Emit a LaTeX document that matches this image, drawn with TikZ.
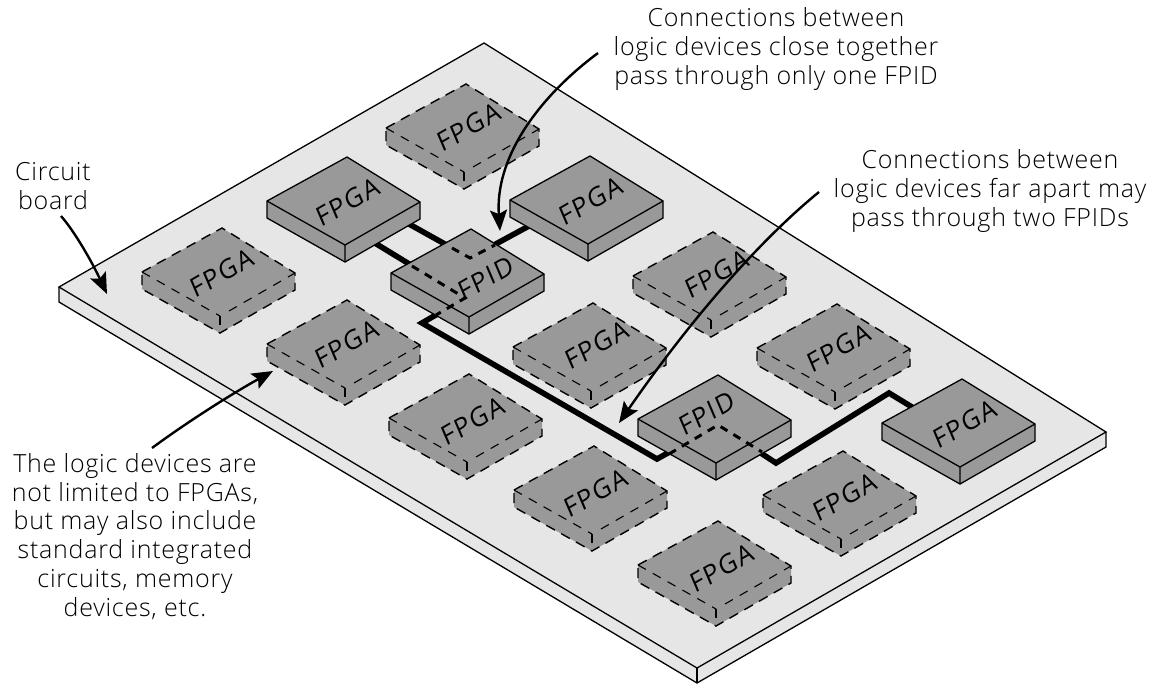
\documentclass[tikz,border=0pt]{standalone}
\usepackage{fontspec}
\setmainfont{Open Sans}[UprightFont=* Light,LetterSpace=3]
\newfontfamily\chipfont{Open Sans}[LetterSpace=6]
\usetikzlibrary{arrows.meta}
\definecolor{boardfill}{HTML}{E6E6E6}
\definecolor{chipfill}{HTML}{999999}
\tikzset{
  outline/.style={draw=black,line width=1.3pt,line join=miter},
  hiddenedge/.style={draw=black,line width=1.4pt,dash pattern=on 10pt off 7pt},
  hiddeninner/.style={draw=black,line width=1.1pt,dash pattern=on 9pt off 8pt},
  wire/.style={draw=black,line width=5.6pt,line join=miter},
  wirehidden/.style={draw=black,line width=3pt,dash pattern=on 8pt off 7pt},
  pointer/.style={draw=black,line width=2.4pt,-{Stealth[length=21pt,width=17pt,inset=4pt]}},
  chiplabel/.style={font=\chipfont\fontsize{26}{26}\selectfont,rotate=30,xslant=0.12,inner sep=0pt},
  note/.style={align=center,inner sep=0pt,font=\fontsize{25}{28.7}\selectfont,anchor=base},
}
\newcommand{\chipcoords}[3]{%
  \path (#2,#3) coordinate (#1l) +(80,-44) coordinate (#1t) +(153,1) coordinate (#1r)
    +(78,44) coordinate (#1f) +(0,17) coordinate (#1L) +(153,18) coordinate (#1R) +(78,61) coordinate (#1F);}
\newcommand{\solidchip}[3]{%
  \chipcoords{#1}{#2}{#3}
  \fill[chipfill] (#1l) -- (#1t) -- (#1r) -- (#1R) -- (#1F) -- (#1L) -- cycle;
  \path[outline] (#1l) -- (#1t) -- (#1r) -- (#1R) -- (#1F) -- (#1L) -- cycle;
  \path[outline] (#1l) -- (#1f) -- (#1r) (#1f) -- (#1F);}
\newcommand{\dashchip}[3]{%
  \chipcoords{#1}{#2}{#3}
  \fill[chipfill] (#1l) -- (#1t) -- (#1r) -- (#1R) -- (#1F) -- (#1L) -- cycle;
  \path[hiddenedge] (#1l) -- (#1t) -- (#1r) -- (#1R) -- (#1F) -- (#1L) -- cycle;
  \path[hiddeninner] (#1l) -- (#1f);
  \path[hiddeninner] (#1f) -- (#1F);
  \path[hiddeninner] (#1f) ++(9,-5) -- (#1r);}
\begin{document}
\begin{tikzpicture}[x=1pt,y=-1pt]
\useasboundingbox (0,0) rectangle (1159,683);
% board
\coordinate (bl) at (59,287); \coordinate (bt) at (484,43);
\coordinate (br) at (1106,432); \coordinate (bb) at (697,668);
\coordinate (bL) at (59,302); \coordinate (bR) at (1106,447); \coordinate (bB) at (697,683);
\fill[boardfill] (bl) -- (bt) -- (br) -- (bR) -- (bB) -- (bL) -- cycle;
\path[outline] (bl) -- (bt) -- (br) -- (bb) -- cycle;
\path[outline] (bl) -- (bL) -- (bB) -- (bR) -- (br);
\draw[line width=2.2pt] (bb) -- (bB);
% dashed chips
\dashchip{a}{386}{128}
\dashchip{b}{142}{272}
\dashchip{c}{267}{344}
\dashchip{d}{633}{276}
\dashchip{e}{513}{347}
\dashchip{f}{757}{348}
\dashchip{g}{389}{418}
\dashchip{h}{514}{490}
\dashchip{i}{763}{495}
\dashchip{j}{638}{565}
% wire routing points
\coordinate (w1a) at (400,219); \coordinate (w1b) at (470,258); \coordinate (w1c) at (540,220);
\coordinate (w2a) at (365,237); \coordinate (w2b) at (465,298); \coordinate (w2c) at (422,323);
\coordinate (w2d) at (657,459); \coordinate (w2e) at (718,425); \coordinate (w2f) at (776,463);
\coordinate (w2g) at (889,393); \coordinate (w2h) at (925,415);
\path[wire] (w1a) -- (w1b) -- (w1c);
\path[wire] (w2a) -- (w2b) -- (w2c) -- (w2d) -- (w2e) -- (w2f) -- (w2g) -- (w2h);
% solid chips
\solidchip{p}{267}{201}
\solidchip{q}{510}{200}
\solidchip{m}{391}{273}
\solidchip{n}{638}{419}
\solidchip{s}{882}{423}
% hidden wire runs
\coordinate (h1a) at (452,248); \coordinate (h1c) at (495,245);
\coordinate (h2a) at (412,266); \coordinate (h2c) at (436,315);
\coordinate (h3a) at (669,454); \coordinate (h3c) at (762,452);
\path[wirehidden] (h1a) -- (w1b) -- (h1c);
\path[wirehidden] (h2a) -- (w2b) -- (h2c);
\path[wirehidden] (h3a) -- (w2e) -- (h3c);
% chip labels
\node[chiplabel] (la) at (469,127) {FPGA};
\node[chiplabel] (lb) at (222,273) {FPGA};
\node[chiplabel] (lc) at (347,344) {FPGA};
\node[chiplabel] (ld) at (717,274) {FPGA};
\node[chiplabel] (le) at (597,345) {FPGA};
\node[chiplabel] (lf) at (839,348) {FPGA};
\node[chiplabel] (lg) at (473,421) {FPGA};
\node[chiplabel] (lh) at (596,493) {FPGA};
\node[chiplabel] (li) at (845,497) {FPGA};
\node[chiplabel] (lj) at (722,568) {FPGA};
\node[chiplabel] (lp) at (348,202) {FPGA};
\node[chiplabel] (lq) at (591,201) {FPGA};
\node[chiplabel] (ls) at (965,424) {FPGA};
\node[chiplabel] (lm) at (486,278) {FPID};
\node[chiplabel] (ln) at (707,413) {FPID};
% notes
\node[note] (n1) at (776,84) {Connections between\\logic devices close together\\pass through only one FPID};
\node[note] (n2) at (990,226) {Connections between\\logic devices far apart may\\pass through two FPIDs};
\node[note] (n3) at (135,616) {The logic devices are\\not limited to FPGAs,\\but may also include\\standard integrated\\circuits, memory\\devices, etc.};
\node[note] (n4) at (53,209) {Circuit\\board};
% pointers
\coordinate (p1s) at (61,216); \coordinate (p1e) at (107,294);
\coordinate (p2s) at (598,53); \coordinate (p2e) at (500,231);
\coordinate (p3s) at (819,192); \coordinate (p3e) at (619,423);
\coordinate (p4s) at (152,448); \coordinate (p4e) at (273,371);
\path[pointer] (p1s) .. controls (75,232) and (92,262) .. (p1e);
\path[pointer] (p2s) .. controls (535,100) and (495,160) .. (p2e);
\path[pointer] (p3s) .. controls (760,240) and (690,320) .. (p3e);
\path[pointer] (p4s) .. controls (190,420) and (235,392) .. (p4e);
\end{tikzpicture}
\end{document}
